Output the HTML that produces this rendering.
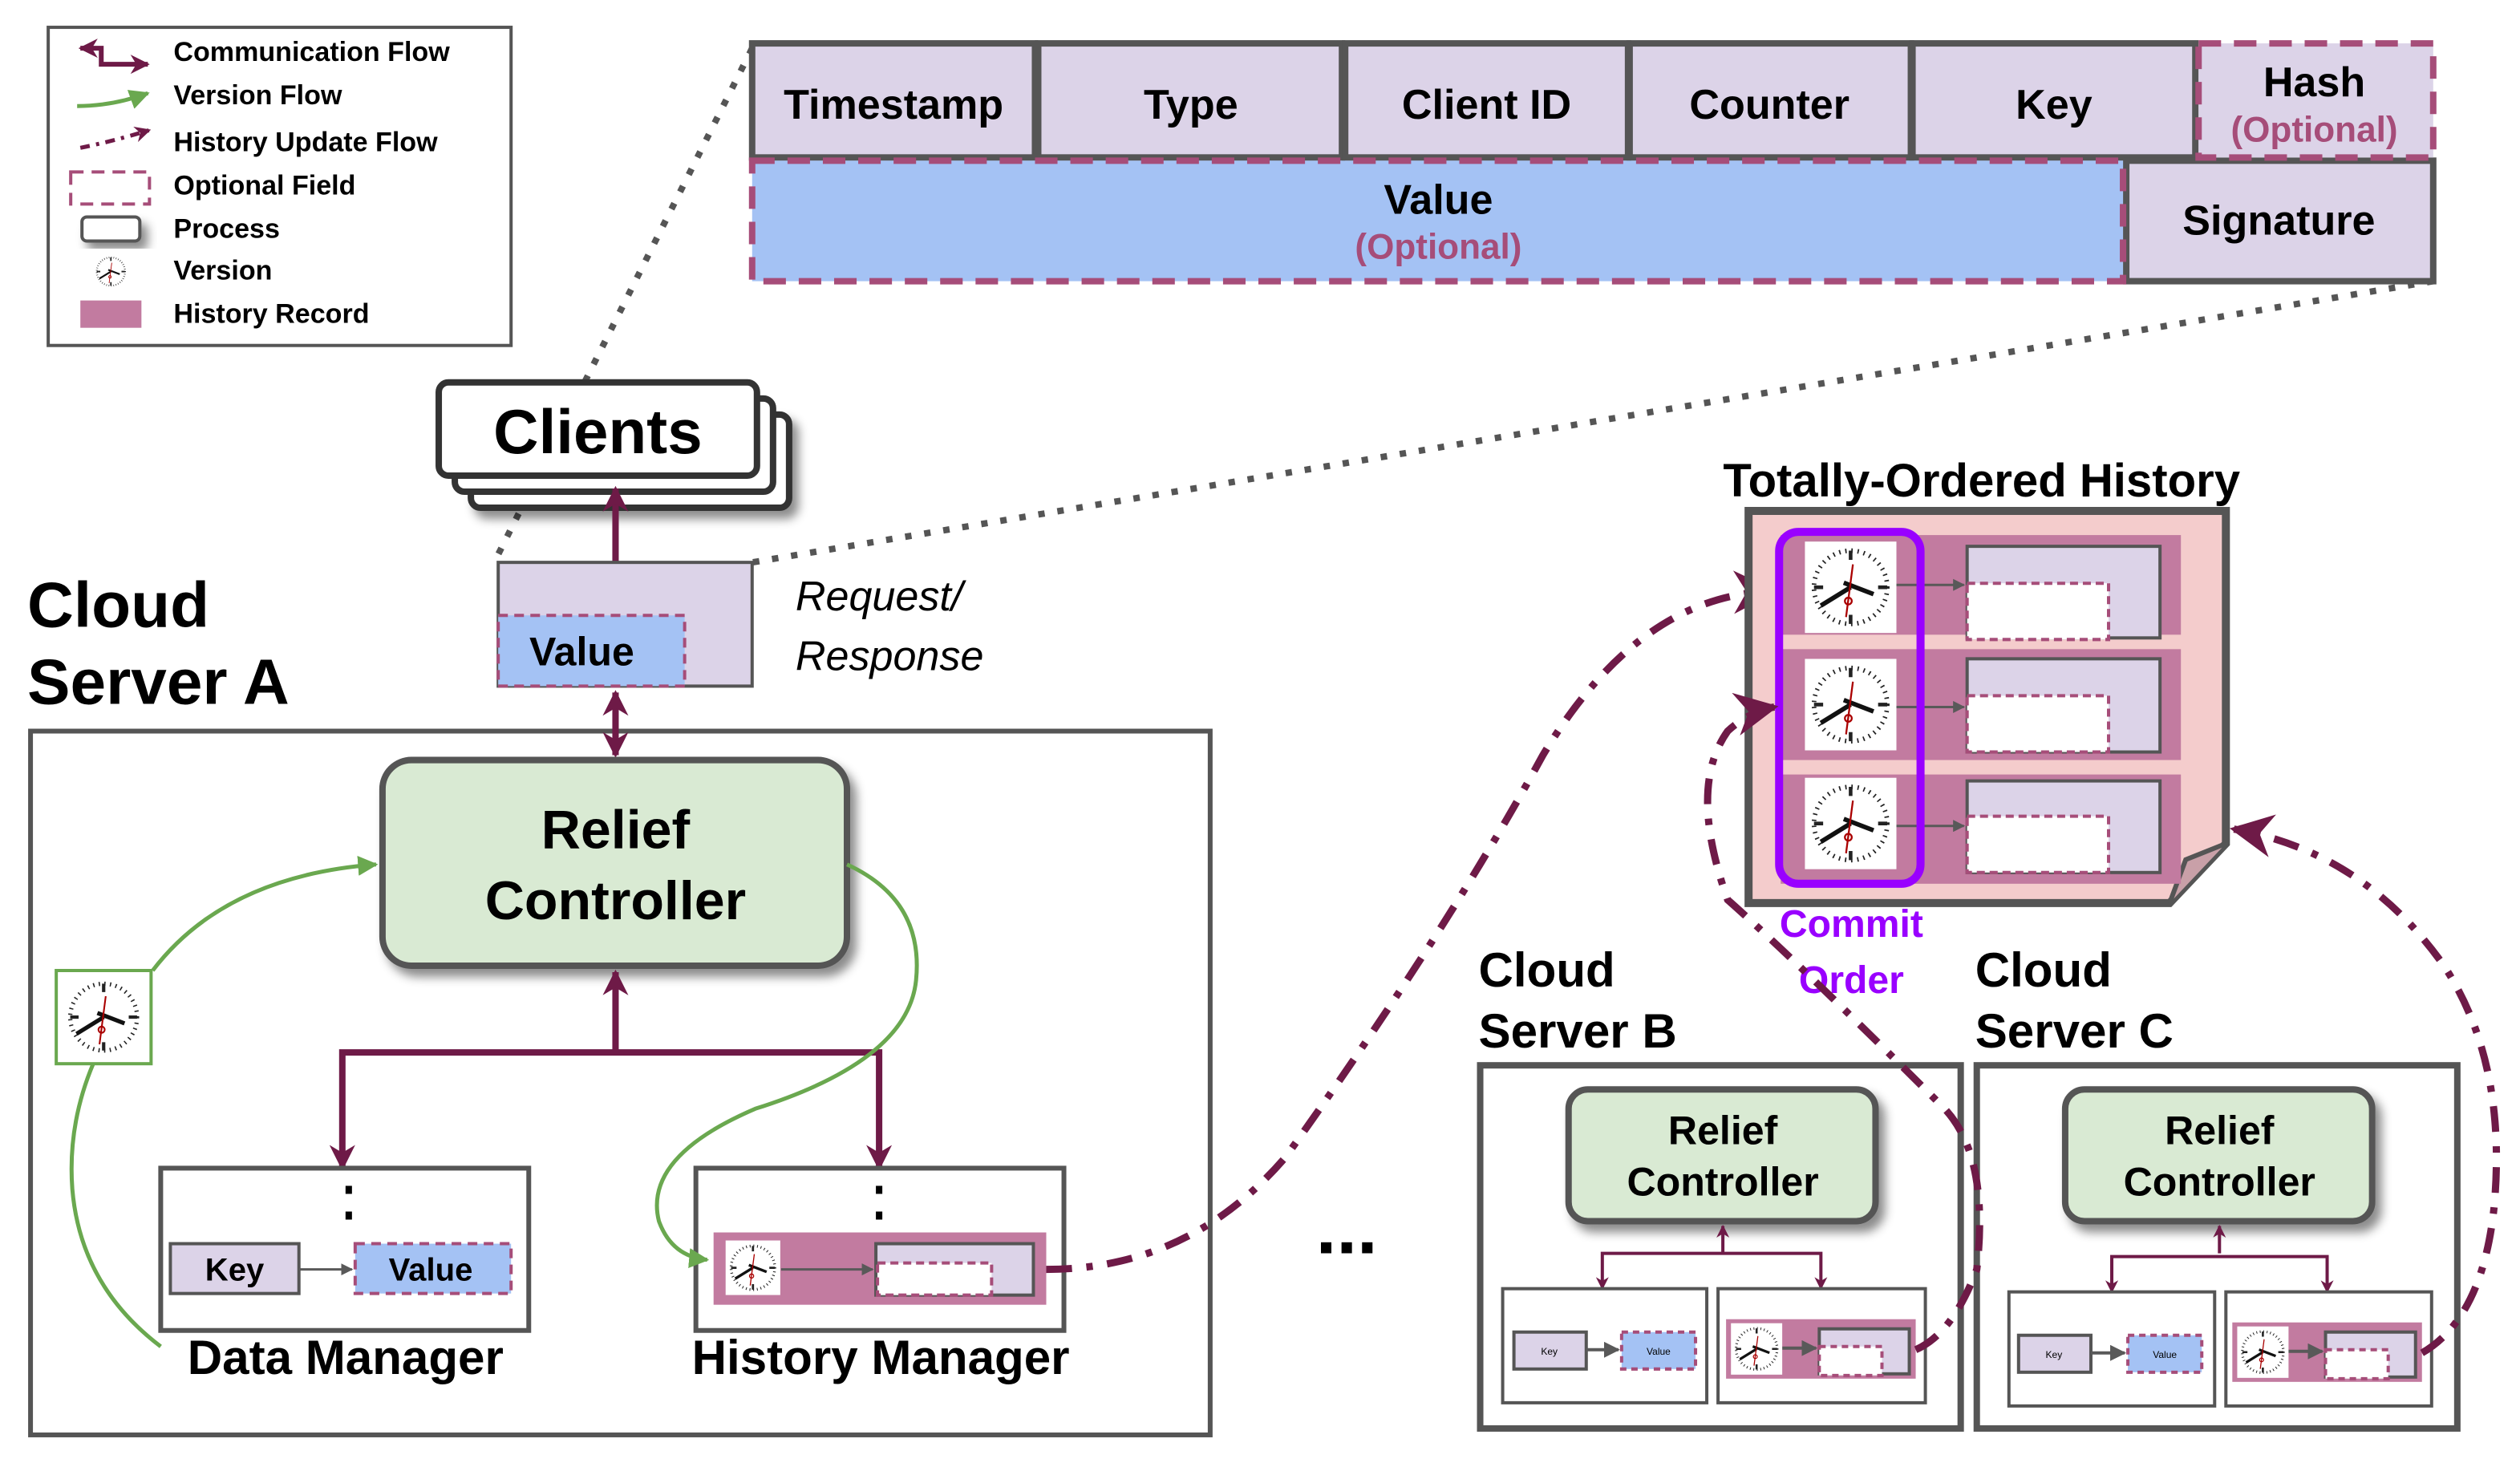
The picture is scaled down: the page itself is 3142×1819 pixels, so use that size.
<!DOCTYPE html>
<html><head><meta charset="utf-8"><style>
html,body{margin:0;padding:0;background:#fff;}
svg{display:block;}
text{font-family:"Liberation Sans",sans-serif;font-weight:bold;}
</style></head><body>
<svg width="3142" height="1819" viewBox="0 0 1568 908" preserveAspectRatio="none" xmlns="http://www.w3.org/2000/svg">
<defs>
<marker id="ap" viewBox="0 0 10 10" refX="9" refY="5" markerWidth="4" markerHeight="4" orient="auto-start-reverse"><path d="M0,0L10,5L0,10L3,5z" fill="#6e1a47"/></marker>
<marker id="ag" viewBox="0 0 10 10" refX="9" refY="5" markerWidth="5" markerHeight="5" orient="auto"><path d="M0,0L10,5L0,10z" fill="#6aa84f"/></marker>
<marker id="ad" viewBox="0 0 10 10" refX="9" refY="5" markerWidth="6" markerHeight="6" orient="auto"><path d="M0,0L10,5L0,10L3,5z" fill="#6e1a47"/></marker>
<marker id="agr" viewBox="0 0 10 10" refX="9" refY="5" markerWidth="5" markerHeight="5" orient="auto"><path d="M0,0L10,5L0,10z" fill="#595959"/></marker>
<symbol id="clk" viewBox="0 0 40 40">
<rect width="40" height="40" fill="#fff"/>
<circle cx="20" cy="20" r="16" fill="#fff" stroke="#222" stroke-width="2" stroke-dasharray="0.6 2.1"/>
<g stroke="#222" stroke-width="1.6"><line x1="20" y1="4" x2="20" y2="8"/><line x1="20" y1="32" x2="20" y2="36"/><line x1="4" y1="20" x2="8" y2="20"/><line x1="32" y1="20" x2="36" y2="20"/></g>
<line x1="20" y1="20" x2="7" y2="28" stroke="#111" stroke-width="2"/>
<line x1="17" y1="18" x2="30" y2="23" stroke="#111" stroke-width="2"/>
<line x1="21" y1="10" x2="18" y2="33" stroke="#a00" stroke-width="0.8"/>
<circle cx="19" cy="26" r="1.5" fill="none" stroke="#a00" stroke-width="0.8"/>
</symbol>
<filter id="sh" x="-20%" y="-20%" width="150%" height="150%"><feDropShadow dx="4" dy="5" stdDeviation="3" flood-color="#000" flood-opacity="0.45"/></filter>
</defs>

<!-- Legend -->
<rect x="30" y="17" width="288" height="198" fill="#fff" stroke="#555" stroke-width="2"/>
<path d="M50,30 L63,30 L63,40 L92,40" fill="none" stroke="#6e1a47" stroke-width="3" marker-start="url(#ap)" marker-end="url(#ap)"/>
<path d="M48,66 Q70,66 92,58" fill="none" stroke="#6aa84f" stroke-width="2.5" marker-end="url(#ag)"/>
<path d="M50,92 Q70,88 93,81" fill="none" stroke="#6e1a47" stroke-width="2.5" stroke-dasharray="6 4 2 4" marker-end="url(#ap)"/>
<rect x="44" y="107" width="49" height="20" fill="#fff" stroke="#a64d79" stroke-width="2" stroke-dasharray="8 5"/>
<rect x="51" y="135" width="36" height="15" rx="3" fill="#fff" stroke="#555" stroke-width="2" filter="url(#sh)"/>
<use href="#clk" x="58" y="158" width="22" height="22"/>
<rect x="50" y="187" width="38" height="17" fill="#c27ba0"/>
<g font-size="17" fill="#000">
<text x="108" y="38">Communication Flow</text>
<text x="108" y="65">Version Flow</text>
<text x="108" y="94">History Update Flow</text>
<text x="108" y="121">Optional Field</text>
<text x="108" y="148">Process</text>
<text x="108" y="174">Version</text>
<text x="108" y="201">History Record</text>
</g>

<!-- dotted zoom lines -->
<line x1="468" y1="30" x2="310" y2="345" stroke="#555" stroke-width="4" stroke-dasharray="4 8"/>
<line x1="1514" y1="175" x2="468" y2="350" stroke="#555" stroke-width="4" stroke-dasharray="4 8"/>

<!-- Message format -->
<g stroke="#555" stroke-width="4" fill="#dcd3e8">
<rect x="468" y="27" width="176" height="71"/>
<rect x="646" y="27" width="189" height="71"/>
<rect x="837" y="27" width="176" height="71"/>
<rect x="1014" y="27" width="175" height="71"/>
<rect x="1190" y="27" width="176" height="71"/>
<rect x="1323" y="100" width="191" height="75"/>
</g>
<rect x="1368" y="27" width="146" height="71" fill="#dcd3e8" stroke="#a64d79" stroke-width="4" stroke-dasharray="14 8"/>
<rect x="468" y="100" width="853" height="75" fill="#a4c2f4" stroke="#a64d79" stroke-width="4" stroke-dasharray="14 8"/>
<g font-size="26" text-anchor="middle" fill="#000">
<text x="556" y="74">Timestamp</text>
<text x="741" y="74">Type</text>
<text x="925" y="74">Client ID</text>
<text x="1101" y="74">Counter</text>
<text x="1278" y="74">Key</text>
<text x="1440" y="60">Hash</text>
<text x="895" y="133">Value</text>
<text x="1418" y="146">Signature</text>
</g>
<g font-size="22" text-anchor="middle" fill="#a64d79">
<text x="1440" y="88">(Optional)</text>
<text x="895" y="161">(Optional)</text>
</g>

<!-- Clients -->
<rect x="293" y="258" width="198" height="58" rx="6" fill="#fff" stroke="#333" stroke-width="4" filter="url(#sh)"/>
<rect x="283" y="248" width="198" height="58" rx="6" fill="#fff" stroke="#333" stroke-width="4"/>
<rect x="273" y="238" width="198" height="58" rx="6" fill="#fff" stroke="#333" stroke-width="4"/>
<text x="372" y="282" font-size="39" text-anchor="middle">Clients</text>

<!-- request box -->
<line x1="383" y1="350" x2="383" y2="304" stroke="#6e1a47" stroke-width="4" marker-end="url(#ap)"/>
<rect x="310" y="350" width="158" height="77" fill="#dcd3e8" stroke="#555" stroke-width="2"/>
<rect x="310" y="383" width="116" height="44" fill="#a4c2f4" stroke="#a64d79" stroke-width="2" stroke-dasharray="6 4"/>
<text x="362" y="414" font-size="25" text-anchor="middle">Value</text>
<g font-size="26" font-style="italic" fill="#000"><text x="495" y="380" style="font-weight:normal">Request/</text><text x="495" y="417" style="font-weight:normal">Response</text></g>

<!-- Cloud Server A -->
<text x="17" y="390" font-size="40">Cloud</text>
<text x="17" y="438" font-size="40">Server A</text>
<rect x="19" y="455" width="734" height="438" fill="none" stroke="#555" stroke-width="3"/>
<line x1="383" y1="431" x2="383" y2="470" stroke="#6e1a47" stroke-width="4" marker-start="url(#ap)" marker-end="url(#ap)"/>
<rect x="238" y="473" width="289" height="128" rx="18" fill="#d9ead3" stroke="#555" stroke-width="4" filter="url(#sh)"/>
<text x="383" y="528" font-size="34" text-anchor="middle">Relief</text>
<text x="383" y="572" font-size="34" text-anchor="middle">Controller</text>
<path d="M383,655 L383,605" stroke="#6e1a47" stroke-width="4" marker-end="url(#ap)"/>
<path d="M213,727 L213,655 L547,655 L547,727" fill="none" stroke="#6e1a47" stroke-width="4" marker-start="url(#ap)" marker-end="url(#ap)"/>

<rect x="100" y="727" width="229" height="101" fill="#fff" stroke="#555" stroke-width="3"/>
<g fill="#000"><rect x="215" y="738" width="4" height="5"/><rect x="215" y="754" width="4" height="5"/></g>
<rect x="106" y="774" width="80" height="31" fill="#dcd3e8" stroke="#555" stroke-width="2"/>
<text x="146" y="797" font-size="20" text-anchor="middle">Key</text>
<line x1="186" y1="790" x2="219" y2="790" stroke="#595959" stroke-width="1.5" marker-end="url(#agr)"/>
<rect x="221" y="774" width="97" height="31" fill="#a4c2f4" stroke="#a64d79" stroke-width="2" stroke-dasharray="6 4"/>
<text x="268" y="797" font-size="20" text-anchor="middle">Value</text>
<text x="215" y="855" font-size="30" text-anchor="middle">Data Manager</text>

<rect x="433" y="727" width="229" height="101" fill="#fff" stroke="#555" stroke-width="3"/>
<g fill="#000"><rect x="545" y="738" width="4" height="5"/><rect x="545" y="754" width="4" height="5"/></g>
<rect x="444" y="767" width="207" height="45" fill="#c27ba0"/>
<use href="#clk" x="451" y="772" width="35" height="34"/>
<line x1="486" y1="790" x2="543" y2="790" stroke="#595959" stroke-width="1.5" marker-end="url(#agr)"/>
<rect x="545" y="774" width="98" height="32" fill="#dcd3e8" stroke="#555" stroke-width="2"/>
<rect x="546" y="786" width="71" height="20" fill="#fff" stroke="#a64d79" stroke-width="2" stroke-dasharray="5 3"/>
<text x="548" y="855" font-size="30" text-anchor="middle">History Manager</text>

<!-- version clock & green flows -->
<rect x="35" y="604" width="59" height="58" fill="#fff" stroke="#6aa84f" stroke-width="2"/>
<use href="#clk" x="38" y="607" width="53" height="52"/>
<path d="M100,838 Q50,800 45,740 Q42,700 58,662" fill="none" stroke="#6aa84f" stroke-width="2.5"/>
<path d="M95,604 Q140,545 234,538" fill="none" stroke="#6aa84f" stroke-width="2.5" marker-end="url(#ag)"/>
<path d="M527,538 Q575,560 570,610 Q565,660 470,690 Q400,720 410,760 Q418,782 440,784" fill="none" stroke="#6aa84f" stroke-width="2.5" marker-end="url(#ag)"/>

<!-- history update flows -->
<path d="M651,790 Q740,790 800,720 Q900,580 960,470 Q1020,370 1103,368" fill="none" stroke="#6e1a47" stroke-width="4.5" stroke-dasharray="16 9 4 9" marker-end="url(#ad)"/>
<text x="838" y="780" font-size="46" text-anchor="middle">...</text>

<!-- Totally ordered history -->
<text x="1233" y="309" font-size="29" text-anchor="middle">Totally-Ordered History</text>
<path d="M1088,318 L1385,318 L1385,525 L1350,562 L1088,562 Z" fill="#f4cccc" stroke="#555" stroke-width="5"/>
<path d="M1350,562 L1360,535 L1385,525" fill="#c9a0a8" stroke="#555" stroke-width="3"/>
<g fill="#c27ba0">
<rect x="1108" y="333" width="249" height="62"/>
<rect x="1108" y="404" width="249" height="69"/>
<rect x="1108" y="482" width="249" height="68"/>
</g>
<g>
<use href="#clk" x="1123" y="337" width="57" height="57"/>
<use href="#clk" x="1123" y="410" width="57" height="57"/>
<use href="#clk" x="1123" y="484" width="57" height="57"/>
</g>
<g stroke="#595959" stroke-width="1.5">
<line x1="1180" y1="364" x2="1222" y2="364" marker-end="url(#agr)"/>
<line x1="1180" y1="440" x2="1222" y2="440" marker-end="url(#agr)"/>
<line x1="1180" y1="514" x2="1222" y2="514" marker-end="url(#agr)"/>
</g>
<g>
<rect x="1224" y="340" width="120" height="57" fill="#dcd3e8" stroke="#555" stroke-width="2"/>
<rect x="1224" y="363" width="88" height="35" fill="#fff" stroke="#a64d79" stroke-width="2" stroke-dasharray="5 3"/>
<rect x="1224" y="410" width="120" height="58" fill="#dcd3e8" stroke="#555" stroke-width="2"/>
<rect x="1224" y="433" width="88" height="35" fill="#fff" stroke="#a64d79" stroke-width="2" stroke-dasharray="5 3"/>
<rect x="1224" y="486" width="120" height="57" fill="#dcd3e8" stroke="#555" stroke-width="2"/>
<rect x="1224" y="508" width="88" height="35" fill="#fff" stroke="#a64d79" stroke-width="2" stroke-dasharray="5 3"/>
</g>
<rect x="1107" y="331" width="88" height="219" rx="12" fill="none" stroke="#9900ff" stroke-width="5"/>
<text x="1152" y="583" font-size="24" fill="#9900ff" text-anchor="middle">Commit</text>
<text x="1152" y="618" font-size="24" fill="#9900ff" text-anchor="middle">Order</text>

<!-- Server B -->
<text x="920" y="614" font-size="30">Cloud</text>
<text x="920" y="652" font-size="30">Server  B</text>
<rect x="921" y="663" width="299" height="226" fill="#fff" stroke="#555" stroke-width="4"/>
<rect x="976" y="678" width="191" height="82" rx="12" fill="#d9ead3" stroke="#555" stroke-width="4" filter="url(#sh)"/>
<text x="1072" y="712" font-size="25" text-anchor="middle">Relief</text>
<text x="1072" y="744" font-size="25" text-anchor="middle">Controller</text>
<line x1="1072" y1="780" x2="1072" y2="763" stroke="#6e1a47" stroke-width="2" marker-end="url(#ap)"/>
<path d="M997,802 L997,780 L1133,780 L1133,802" fill="none" stroke="#6e1a47" stroke-width="2" marker-start="url(#ap)" marker-end="url(#ap)"/>
<rect x="935" y="802" width="127" height="71" fill="#fff" stroke="#555" stroke-width="2"/>
<rect x="1069" y="802" width="129" height="71" fill="#fff" stroke="#555" stroke-width="2"/>
<rect x="942" y="829" width="45" height="23" fill="#dcd3e8" stroke="#555" stroke-width="2"/>
<text x="964" y="843" font-size="6" text-anchor="middle" style="font-weight:normal">Key</text>
<line x1="987" y1="840" x2="1007" y2="840" stroke="#595959" stroke-width="2" marker-end="url(#agr)"/>
<rect x="1009" y="829" width="46" height="23" fill="#a4c2f4" stroke="#a64d79" stroke-width="2" stroke-dasharray="4 3"/>
<text x="1032" y="843" font-size="6" text-anchor="middle" style="font-weight:normal">Value</text>
<rect x="1074" y="821" width="118" height="37" fill="#c27ba0"/>
<use href="#clk" x="1077" y="823" width="32" height="33"/>
<line x1="1109" y1="839" x2="1130" y2="839" stroke="#595959" stroke-width="2" marker-end="url(#agr)"/>
<rect x="1132" y="827" width="56" height="28" fill="#dcd3e8" stroke="#555" stroke-width="2"/>
<rect x="1132" y="838" width="39" height="18" fill="#fff" stroke="#a64d79" stroke-width="2" stroke-dasharray="4 3"/>

<!-- Server C -->
<text x="1229" y="614" font-size="30">Cloud</text>
<text x="1229" y="652" font-size="30">Server C</text>
<rect x="1230" y="663" width="299" height="226" fill="#fff" stroke="#555" stroke-width="4"/>
<rect x="1285" y="678" width="191" height="82" rx="12" fill="#d9ead3" stroke="#555" stroke-width="4" filter="url(#sh)"/>
<text x="1381" y="712" font-size="25" text-anchor="middle">Relief</text>
<text x="1381" y="744" font-size="25" text-anchor="middle">Controller</text>
<line x1="1381" y1="780" x2="1381" y2="763" stroke="#6e1a47" stroke-width="2" marker-end="url(#ap)"/>
<path d="M1314,804 L1314,782 L1448,782 L1448,804" fill="none" stroke="#6e1a47" stroke-width="2" marker-start="url(#ap)" marker-end="url(#ap)"/>
<rect x="1250" y="804" width="128" height="71" fill="#fff" stroke="#555" stroke-width="2"/>
<rect x="1385" y="804" width="128" height="71" fill="#fff" stroke="#555" stroke-width="2"/>
<rect x="1256" y="831" width="45" height="23" fill="#dcd3e8" stroke="#555" stroke-width="2"/>
<text x="1278" y="845" font-size="6" text-anchor="middle" style="font-weight:normal">Key</text>
<line x1="1301" y1="842" x2="1322" y2="842" stroke="#595959" stroke-width="2" marker-end="url(#agr)"/>
<rect x="1324" y="831" width="46" height="23" fill="#a4c2f4" stroke="#a64d79" stroke-width="2" stroke-dasharray="4 3"/>
<text x="1347" y="845" font-size="6" text-anchor="middle" style="font-weight:normal">Value</text>
<rect x="1389" y="823" width="118" height="37" fill="#c27ba0"/>
<use href="#clk" x="1392" y="825" width="32" height="33"/>
<line x1="1424" y1="841" x2="1445" y2="841" stroke="#595959" stroke-width="2" marker-end="url(#agr)"/>
<rect x="1447" y="829" width="56" height="28" fill="#dcd3e8" stroke="#555" stroke-width="2"/>
<rect x="1447" y="840" width="39" height="18" fill="#fff" stroke="#a64d79" stroke-width="2" stroke-dasharray="4 3"/>

<!-- update flows from B and C -->
<path d="M1192,840 Q1215,830 1230,790 Q1238,720 1210,690 Q1120,600 1075,560 Q1050,490 1075,455 Q1088,443 1104,440" fill="none" stroke="#6e1a47" stroke-width="4.5" stroke-dasharray="16 9 4 9" marker-end="url(#ad)"/>
<path d="M1507,842 Q1545,820 1552,750 Q1560,660 1520,600 Q1470,530 1390,516" fill="none" stroke="#6e1a47" stroke-width="4.5" stroke-dasharray="16 9 4 9" marker-end="url(#ad)"/>
</svg>
</body></html>
